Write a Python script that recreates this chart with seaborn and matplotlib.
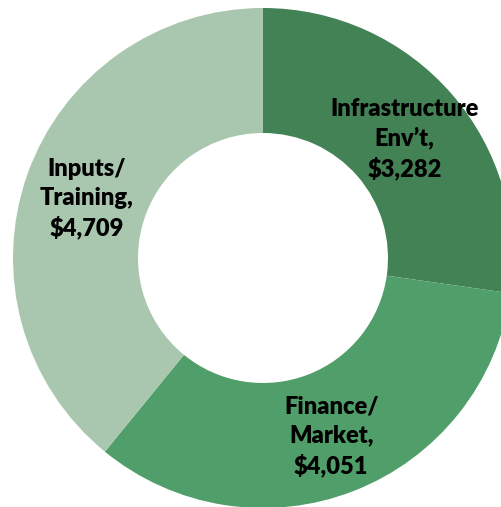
import matplotlib
matplotlib.use("Agg")
import matplotlib.pyplot as plt
import seaborn as sns

# Spending by programme area
categories = ["Infrastructure\nEnv\u2019t", "Finance/\nMarket", "Inputs/\nTraining"]
values = [3282, 4051, 4709]
colors = ["#438255", "#509E69", "#A9C7AF"]

sns.set_style("white")
plt.rcParams["font.family"] = ["Lato", "DejaVu Sans"]

labels = [f"{c},\n${v:,}" for c, v in zip(categories, values)]

fig = plt.figure(figsize=(5.02, 5.07), dpi=100)
ax = fig.add_axes([0, 0, 1, 1])

palette = sns.color_palette(colors)
_, texts = ax.pie(
    values,
    labels=labels,
    colors=palette,
    startangle=90,
    counterclock=False,
    labeldistance=0.75,
    wedgeprops=dict(width=0.5, linewidth=0),
    textprops=dict(ha="center", va="center", fontsize=17, fontweight="heavy",
                   color="black", linespacing=1.35, multialignment="center"),
)
# nudge labels slightly down so each block sits on the ring's middle
for t in texts:
    x, y = t.get_position()
    t.set_position((x, y - 0.015))

# Ring of radius 1 is 250 px wide, centred at (263, 258) px from top-left
ax.set_aspect("auto")
ax.set_xlim(-263 / 250, (502 - 263) / 250)
ax.set_ylim(-(507 - 258) / 250, 258 / 250)
ax.axis("off")

fig.savefig("out.png", dpi=100, facecolor="white")
